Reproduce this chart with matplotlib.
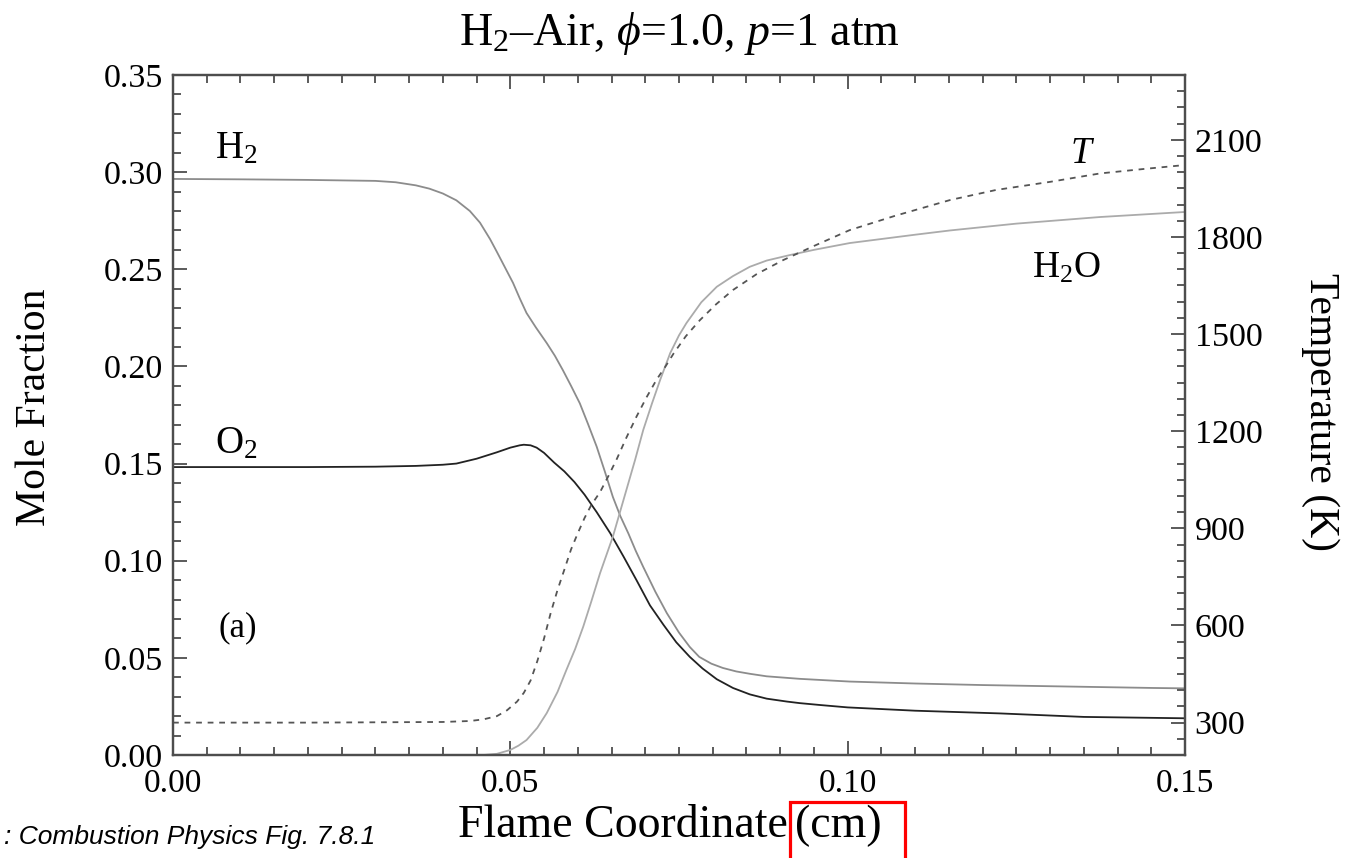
"""H2-air premixed flame structure: mole fractions and temperature."""
import matplotlib

matplotlib.use("Agg")
import matplotlib.pyplot as plt
from matplotlib.patches import Rectangle
from matplotlib.ticker import MultipleLocator

plt.rcParams["font.family"] = ["Liberation Serif", "DejaVu Serif"]
plt.rcParams["mathtext.fontset"] = "custom"
plt.rcParams["mathtext.rm"] = "Liberation Serif"
plt.rcParams["mathtext.it"] = "Liberation Serif:italic"

# values (x in cm)
x_h2 = [0.000, 0.010, 0.020, 0.030, 0.033, 0.036, 0.038, 0.040, 0.042, 0.044,
        0.0455, 0.047, 0.048, 0.0492, 0.0504, 0.0514, 0.0524, 0.0538, 0.0554,
        0.0566, 0.0578, 0.059, 0.0603, 0.0615, 0.0628, 0.064, 0.0652, 0.0663,
        0.0675, 0.0686, 0.0697, 0.0715, 0.0732, 0.0750, 0.0766, 0.078, 0.0798,
        0.0815, 0.0835, 0.0855, 0.0880, 0.0929, 0.1003, 0.110, 0.120, 0.130,
        0.1453, 0.150]
y_h2 = [0.2965, 0.2963, 0.2960, 0.2955, 0.2948, 0.2932, 0.2915, 0.2890, 0.2855,
        0.2800, 0.2740, 0.2655, 0.2590, 0.2510, 0.2430, 0.2350, 0.2275, 0.2200,
        0.2120, 0.2055, 0.1980, 0.1900, 0.1810, 0.1705, 0.1587, 0.1460, 0.1328,
        0.1230, 0.1140, 0.1050, 0.0968, 0.0840, 0.0730, 0.0630, 0.0556, 0.0505,
        0.0470, 0.0448, 0.0430, 0.0418, 0.0405, 0.0392, 0.0378, 0.0368, 0.0360,
        0.0354, 0.0345, 0.0343]

x_o2 = [0.000, 0.010, 0.020, 0.030, 0.036, 0.040, 0.042, 0.045, 0.048, 0.050,
        0.0514, 0.052, 0.053, 0.0539, 0.055, 0.0565, 0.058, 0.0595, 0.061,
        0.0628, 0.0648, 0.0668, 0.0687, 0.0707, 0.0727, 0.0746, 0.0766, 0.0785,
        0.0806, 0.083, 0.0855, 0.088, 0.091, 0.0929, 0.096, 0.100, 0.110,
        0.1226, 0.135, 0.150]
y_o2 = [0.1482, 0.1482, 0.1482, 0.1484, 0.1488, 0.1494, 0.1500, 0.1525, 0.1558,
        0.1582, 0.1594, 0.1597, 0.1594, 0.1582, 0.1555, 0.1505, 0.1460, 0.1405,
        0.1340, 0.1250, 0.1142, 0.1020, 0.0900, 0.0770, 0.0670, 0.0580, 0.0505,
        0.0445, 0.0390, 0.0345, 0.0312, 0.0290, 0.0275, 0.0267, 0.0257, 0.0245,
        0.0228, 0.0214, 0.0196, 0.0189]

x_h2o = [0.046, 0.048, 0.050, 0.0512, 0.0524, 0.054, 0.0554, 0.057, 0.0583,
         0.0596, 0.0608, 0.062, 0.0633, 0.0652, 0.0672, 0.0685, 0.0697, 0.071,
         0.0722, 0.0737, 0.075, 0.0761, 0.0783, 0.0806, 0.083, 0.0855, 0.088,
         0.0914, 0.095, 0.1003, 0.110, 0.1152, 0.125, 0.1374, 0.150]
y_h2o = [0.0, 0.0006, 0.0026, 0.0048, 0.0077, 0.0140, 0.0216, 0.0325, 0.0437,
         0.0545, 0.0660, 0.0790, 0.0936, 0.1124, 0.1364, 0.1520, 0.1673, 0.1810,
         0.1930, 0.2069, 0.2160, 0.2223, 0.2330, 0.2410, 0.2465, 0.2513, 0.2545,
         0.2573, 0.2600, 0.2635, 0.2678, 0.2700, 0.2735, 0.2769, 0.2795]

x_t = [0.000, 0.020, 0.040, 0.044, 0.046, 0.048, 0.0495, 0.051, 0.052, 0.053,
       0.054, 0.055, 0.056, 0.057, 0.058, 0.059, 0.060, 0.061, 0.062, 0.0633,
       0.0645, 0.0658, 0.0672, 0.0687, 0.0702, 0.0717, 0.073, 0.0742, 0.076,
       0.0781, 0.0805, 0.083, 0.0865, 0.0905, 0.095, 0.1003, 0.107, 0.1152,
       0.122, 0.130, 0.1374, 0.144, 0.150]
temp = [300, 300, 302, 305, 310, 320, 338, 365, 392, 430, 490, 560, 640, 710,
        772, 835, 885, 932, 972, 1012, 1060, 1115, 1180, 1245, 1305, 1360, 1400,
        1440, 1493, 1543, 1592, 1636, 1685, 1729, 1772, 1821, 1865, 1914, 1945,
        1970, 1996, 2010, 2022]

SPINE = "#4d4d4d"

fig = plt.figure(figsize=(13.5, 8.58), dpi=100)
ax = fig.add_axes([173 / 1350, 103 / 858, 1012 / 1350, 680 / 858])
ax2 = ax.twinx()

ax.plot(x_h2, y_h2, color="#8c8c8c", lw=1.3)
ax.plot(x_o2, y_o2, color="#222222", lw=1.3)
ax.plot(x_h2o, y_h2o, color="#ababab", lw=1.3)
ax2.plot(x_t, temp, color="#555555", lw=1.3, dashes=(3.2, 3.2))

ax.set_xlim(0, 0.15)
ax.set_ylim(0, 0.35)
ax2.set_ylim(200, 2300)

ax.xaxis.set_major_locator(MultipleLocator(0.05))
ax.xaxis.set_minor_locator(MultipleLocator(0.005))
ax.yaxis.set_major_locator(MultipleLocator(0.05))
ax.yaxis.set_minor_locator(MultipleLocator(0.01))
ax2.yaxis.set_minor_locator(MultipleLocator(50))
ax2.set_yticks(range(300, 2101, 300))
ax.xaxis.set_major_formatter(lambda v, p: f"{v:.2f}")
ax.yaxis.set_major_formatter(lambda v, p: f"{v:.2f}")

ax.tick_params(axis="x", which="both", direction="in", top=True, bottom=True,
               color=SPINE, width=1.3, labelsize=24, pad=10)
ax.tick_params(axis="y", which="both", direction="in", left=True, right=False,
               color=SPINE, width=1.3, labelsize=24.5, pad=7)
ax2.tick_params(axis="y", which="both", direction="in", right=True,
                color=SPINE, width=1.3, labelsize=24.5, pad=7)
for a in (ax, ax2):
    a.tick_params(which="major", length=10)
    a.tick_params(which="minor", length=6)
    for s in a.spines.values():
        s.set_color(SPINE)
        s.set_linewidth(1.6)

# curve labels
ax.text(0.0062, 0.307, r"H$_2$", fontsize=28, va="baseline")
ax.text(0.0062, 0.1554, r"O$_2$", fontsize=28, va="baseline")
ax.text(0.1330, 0.3047, "T", fontsize=27, va="baseline", style="italic")
ax.text(0.1273, 0.2455, r"H$_2$O", fontsize=27, va="baseline")
ax.text(0.0067, 0.0612, "(a)", fontsize=25, va="baseline")

fig.text(679 / 1350, 1 - 45 / 858, r"H$_2$–Air, $\phi$=1.0, $p$=1 atm",
         fontsize=33, ha="center", va="baseline")
fig.text(35 / 1350, 1 - 407 / 858, "Mole Fraction", fontsize=30,
         rotation=90, ha="center", va="center")
fig.text(1320 / 1350, 1 - 412 / 858, "Temperature (K)", fontsize=30,
         rotation=-90, ha="center", va="center")
fig.text(458 / 1350, 1 - 826 / 858, "Flame Coordinate", fontsize=33,
         ha="left", va="center")
fig.text(795 / 1350, 1 - 826 / 858, "(cm)", fontsize=33,
         ha="left", va="center")
fig.text(4 / 1350, 1 - 837 / 858, ": Combustion Physics Fig. 7.8.1",
         fontsize=19, ha="left", va="center", style="italic",
         family="Liberation Sans")

fig.patches.append(Rectangle((790 / 1350, -0.05), 115 / 1350, 56 / 858 + 0.05,
                             fill=False, edgecolor="red", lw=2.3,
                             transform=fig.transFigure, figure=fig))

fig.savefig("out.png", dpi=100)
